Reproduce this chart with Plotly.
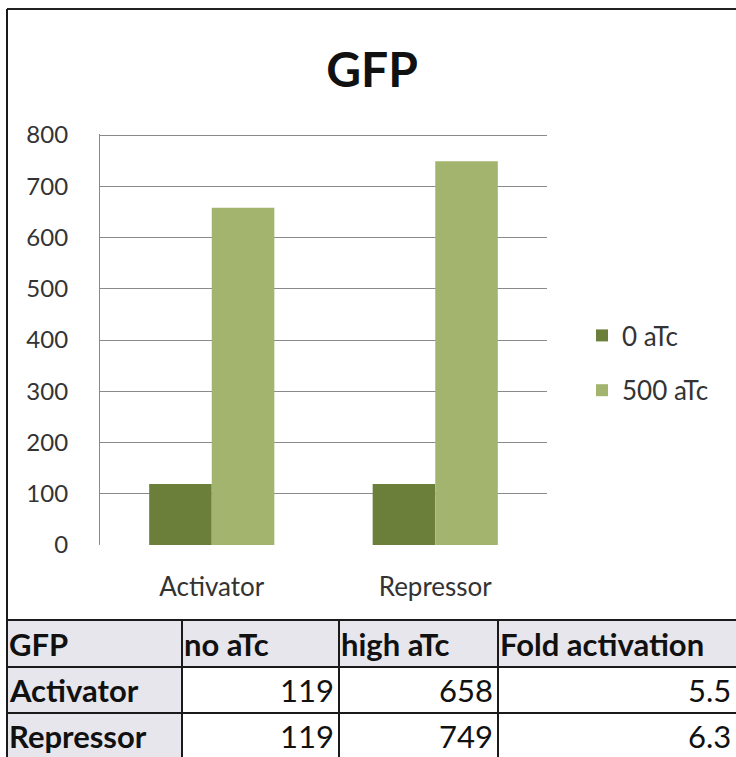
import plotly.graph_objects as go

# ---- data ----
categories = ["Activator", "Repressor"]
series_names = ["0 aTc", "500 aTc"]
gfp_no_atc = [119, 119]
gfp_high_atc = [658, 749]
fold_activation = [5.5, 6.3]
table_header = ["GFP", "no aTc", "high aTc", "Fold activation"]
y_ticks = [0, 100, 200, 300, 400, 500, 600, 700, 800]

W, H = 736, 757
DARK = "#6b7f3b"
LIGHT = "#a3b46f"
FONT = "Lato"
LINE = "#1a1a1a"


def px(x):
    return x / W


def py(y):
    return 1 - y / H


def hline(x0, x1, y, color=LINE, width=2):
    return dict(type="line", xref="paper", yref="paper", x0=px(x0), x1=px(x1),
                y0=py(y), y1=py(y), line=dict(color=color, width=width),
                layer="below")


def vline(x, y0, y1, color=LINE, width=2):
    return dict(type="line", xref="paper", yref="paper", x0=px(x), x1=px(x),
                y0=py(y0), y1=py(y1), line=dict(color=color, width=width),
                layer="below")


fig = go.Figure()
fig.add_trace(go.Bar(x=categories, y=gfp_no_atc, name=series_names[0],
                     marker=dict(color=DARK, line=dict(width=0)),
                     legendgroup="a"))
fig.add_trace(go.Bar(x=categories, y=gfp_high_atc, name=series_names[1],
                     marker=dict(color=LIGHT, line=dict(width=0)),
                     legendgroup="b"))

shapes = []
annotations = []

# chart frame: top and left edges (the right side runs off the page)
shapes.append(hline(7, W + 5, 9, "#222"))
shapes.append(vline(7, 9, H))

# summary table under the chart
col_edges = [7, 182, 339, 498, W + 5]
row_edges = [620, 667, 713, H + 5]
rows = [table_header]
for name, a, b, f in zip(categories, gfp_no_atc, gfp_high_atc, fold_activation):
    rows.append([name, str(a), str(b), f"{f:.1f}"])

SHADE = "#e6e6ec"
for r in range(len(rows)):
    for c in range(len(table_header)):
        x0, x1 = col_edges[c], col_edges[c + 1]
        y0, y1 = row_edges[r], row_edges[r + 1]
        if r == 0 or c == 0:
            shapes.append(dict(type="rect", xref="paper", yref="paper",
                               x0=px(x0), x1=px(x1), y0=py(y1), y1=py(y0),
                               fillcolor=SHADE, line=dict(width=0),
                               layer="below"))
        text = rows[r][c]
        numeric = r > 0 and c > 0
        right = min(x1, W) - 3
        ymid = (y0 + min(y1, H)) / 2 + (0 if r < 2 else 1)
        annotations.append(dict(
            xref="paper", yref="paper",
            x=px(right) if numeric else px(x0),
            xanchor="right" if numeric else "left",
            y=py(ymid), yanchor="middle",
            text=f"<b>{text}</b>" if not numeric else text,
            showarrow=False,
            font=dict(family=FONT, size=31, color="#111")))

for y in row_edges[:-1]:
    shapes.append(hline(7, W + 5, y))
for x in col_edges[:-1]:
    shapes.append(vline(x, 620, H + 5))

fig.update_layout(
    width=W, height=H,
    margin=dict(l=0, r=0, t=0, b=0, pad=0, autoexpand=False),
    paper_bgcolor="white", plot_bgcolor="white",
    barmode="group", bargap=0.44, bargroupgap=0,
    title=dict(text="<b>GFP</b>", x=px(372), xanchor="center",
               y=py(70), yanchor="middle", automargin=False,
               font=dict(family=FONT, size=48, color="#111")),
    font=dict(family=FONT, color="#333"),
    xaxis=dict(domain=[px(100), px(547)], range=[-0.5, 1.5],
               automargin=False,
               showgrid=False, zeroline=False, showline=False,
               ticks="", ticklabelstandoff=24,
               tickfont=dict(family=FONT, size=26, color="#333")),
    yaxis=dict(domain=[py(545), py(134)], range=[0, 802],
               automargin=False,
               tickvals=y_ticks, showgrid=True, gridcolor="#8a8a8a",
               gridwidth=1.2, zeroline=False, showline=True,
               linecolor="#8a8a8a", linewidth=1.2, ticks="",
               ticklabelstandoff=26,
               tickfont=dict(family=FONT, size=24, color="#333")),
    legend=dict(x=px(582), xanchor="left", y=py(363), yanchor="middle",
                traceorder="grouped", tracegroupgap=18,
                font=dict(family=FONT, size=26, color="#333"),
                itemwidth=30, bgcolor="rgba(0,0,0,0)"),
    shapes=shapes,
    annotations=annotations,
)

fig.write_html("out.html")
